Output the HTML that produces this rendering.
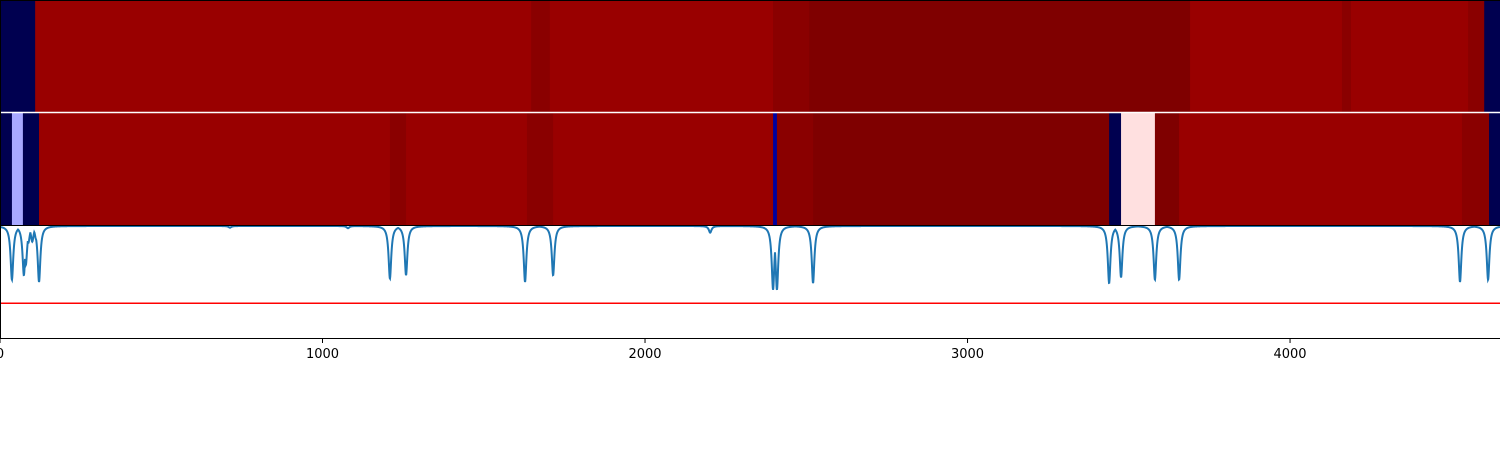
<!DOCTYPE html>
<html><head><meta charset="utf-8"><style>
body{margin:0;background:#fff;}
svg{display:block;font-family:"DejaVu Sans","Liberation Sans",sans-serif;}
</style></head><body>
<svg id="chart" width="1500" height="450" viewBox="0 0 1500 450">
<g id="top"></g>
<g id="mid"></g>
<g id="bot"></g>
<g id="axis"></g>
</svg>
<script>
const topEdges=[0,109,1647,1705,2397,2509,3690,4161,4189,4552,4602,4651];
const topColors=["#000050","#990000","#8a0000","#990000","#8a0000","#7f0000","#990000","#8a0000","#990000","#8a0000","#000050"];
const midEdges=[0,37,71,121,1209,1259,1634,1715,2397,2409,2521,3439,3476,3581,3656,4533,4617,4651];
const midColors=["#000050","#a8a8ff","#000050","#990000","#8a0000","#990000","#8a0000","#990000","#0000a0","#8a0000","#7f0000","#000050","#ffe0e0","#7f0000","#990000","#8a0000","#000050"];
const dipCenters=[37,74,80,88,100,112,121,713,1079,1209,1259,1628,1715,2202,2397,2409,2521,3439,3476,3581,3656,4527,4614];
const dipDepths=[0.48,0.44,0.35,0.15,0.14,0.12,0.5,0.015,0.02,0.47,0.44,0.5,0.44,0.06,0.57,0.57,0.51,0.51,0.46,0.48,0.48,0.5,0.48];
const threshold=0.69;
const xTicks=[0,1000,2000,3000,4000];
const XMAX=4651;
const x=v=>v*1500/XMAX;
const NS="http://www.w3.org/2000/svg";
function mk(t,a,p){const e=document.createElementNS(NS,t);for(const k in a)e.setAttribute(k,a[k]);p.appendChild(e);return e;}
function band(g,edges,colors,y0,h,name){
 for(let i=0;i<colors.length;i++){
  const r=mk("rect",{x:x(edges[i]),y:y0,width:x(edges[i+1])-x(edges[i])+0.5,height:h,fill:colors[i]},g);
  
  
 }
}
band(document.getElementById("top"),topEdges,topColors,0,112,"top");
band(document.getElementById("mid"),midEdges,midColors,113,112,"middle");
const bot=document.getElementById("bot");
const yv=v=>226+v*112;
let d="";
const gam=5;
for(let px=0;px<=1500;px+=0.25){
 const u=px*XMAX/1500;let s=0;
 for(let i=0;i<dipCenters.length;i++){const t=(u-dipCenters[i])/gam;s=Math.max(s,dipDepths[i]/(1+t*t));}
 d+=(px?"L":"M")+px.toFixed(2)+","+yv(s).toFixed(2);
}
const th=mk("line",{x1:0,x2:1500,y1:yv(threshold),y2:yv(threshold),stroke:"#ff0000","stroke-width":1.5},bot);


const ln=mk("path",{d:d,fill:"none",stroke:"#1f77b4","stroke-width":2},bot);


mk("line",{x1:0,x2:1500,y1:112.5,y2:112.5,stroke:"#fff","stroke-width":1.5},bot);
mk("line",{x1:0,x2:1500,y1:225.5,y2:225.5,stroke:"#000","stroke-width":1},bot);
mk("line",{x1:0,x2:1500,y1:338.5,y2:338.5,stroke:"#000","stroke-width":1},bot);
mk("line",{x1:0.5,x2:0.5,y1:0,y2:338.5,stroke:"#000","stroke-width":1},bot);
mk("line",{x1:0,x2:1500,y1:0.5,y2:0.5,stroke:"#000","stroke-width":1},bot);
const ax=document.getElementById("axis");
xTicks.forEach(t=>{
 mk("line",{x1:x(t),x2:x(t),y1:338,y2:343,stroke:"#000","stroke-width":1},ax);
 const tx=mk("text",{x:x(t),y:358,"text-anchor":"middle","font-size":13,fill:"#000"},ax);
 tx.textContent=t;
 
 
});
</script>
</body></html>
